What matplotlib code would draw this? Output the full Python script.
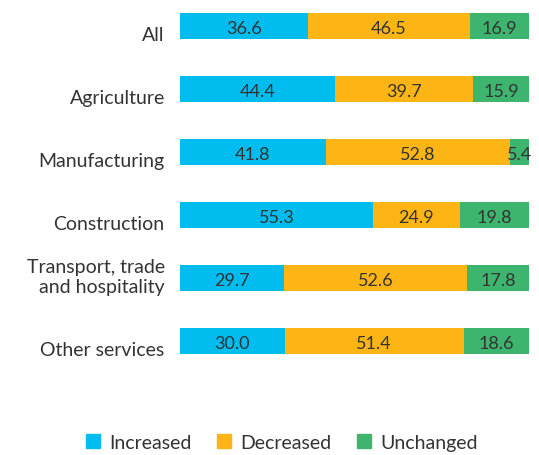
import matplotlib
matplotlib.use('Agg')
from matplotlib import pyplot as plt
import matplotlib.patches as mpatches
import matplotlib.transforms as mtransforms
import numpy as np

plt.rcParams['font.family'] = ['Lato', 'DejaVu Sans']

categories = ['All', 'Agriculture', 'Manufacturing', 'Construction',
              'Transport, trade\nand hospitality', 'Other services']
increased = [36.6, 44.4, 41.8, 55.3, 29.7, 30.0]
decreased = [46.5, 39.7, 52.8, 24.9, 52.6, 51.4]
unchanged = [16.9, 15.9, 5.4, 19.8, 17.8, 18.6]
series_names = ['Increased', 'Decreased', 'Unchanged']
colors = ['#00BCEF', '#FDB515', '#3DB56E']
text_color = '#333333'

fig = plt.figure(figsize=(5.39, 4.56), dpi=100)
ax = fig.add_axes([0.334, 0.184, 0.647, 0.816])

y = np.arange(len(categories))
left = np.zeros(len(categories))
for vals, color in zip([increased, decreased, unchanged], colors):
    vals = np.array(vals)
    ax.barh(y, vals, left=left, height=0.42, color=color, edgecolor='none')
    for yi, l, v in zip(y, left, vals):
        ax.text(l + v / 2, yi + 0.03, '%.1f' % v, ha='center', va='center',
                fontsize=13, color=text_color)
    left += vals

ax.set_xlim(0, 100)
ax.set_ylim(5.476, -0.43)
ax.set_yticks(y)
ax.set_yticklabels(categories, fontsize=14, color=text_color, linespacing=1.25)
ax.tick_params(axis='y', length=0, pad=11)
ax.set_xticks([])
for s in ax.spines.values():
    s.set_visible(False)

# last line of each label sits on the bottom edge of its bar
shift = mtransforms.ScaledTranslation(0, -12.5 / 72, fig.dpi_scale_trans)
for lab in ax.get_yticklabels():
    lab.set_va('bottom')
    lab.set_transform(lab.get_transform() + shift)

handles = [mpatches.Patch(color=c, label=n) for c, n in zip(colors, series_names)]
fig.legend(handles=handles, loc='center', bbox_to_anchor=(0.523, 0.028), ncol=3,
           frameon=False, fontsize=14, handlelength=0.72, handleheight=0.72,
           handletextpad=0.5, columnspacing=1.3, labelcolor=text_color)

fig.savefig('out.png', dpi=100)
